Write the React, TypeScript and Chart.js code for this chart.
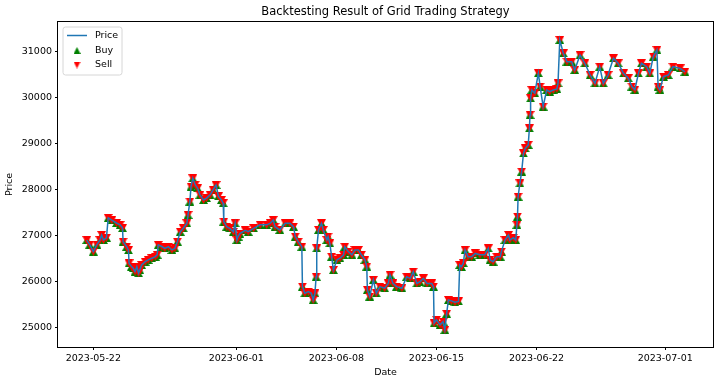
import React, { useEffect, useRef } from "react";
import { Chart, registerables } from "chart.js";

Chart.register(...registerables);

// ---- data ----
const timestamps = [
  "2023-05-21 13:00", "2023-05-21 18:00", "2023-05-22 00:00", "2023-05-22 06:00", "2023-05-22 11:00",
  "2023-05-22 14:00", "2023-05-22 17:00", "2023-05-22 22:00", "2023-05-23 01:00", "2023-05-23 07:00",
  "2023-05-23 15:00", "2023-05-23 21:00", "2023-05-24 01:00", "2023-05-24 02:00", "2023-05-24 08:00",
  "2023-05-24 11:00", "2023-05-24 12:00", "2023-05-24 16:00", "2023-05-24 19:00", "2023-05-24 22:00",
  "2023-05-25 01:00", "2023-05-25 04:00", "2023-05-25 06:00", "2023-05-25 09:00", "2023-05-25 15:00",
  "2023-05-25 20:00", "2023-05-26 02:00", "2023-05-26 08:00", "2023-05-26 11:00", "2023-05-26 13:00",
  "2023-05-26 19:00", "2023-05-27 00:00", "2023-05-27 06:00", "2023-05-27 12:00", "2023-05-27 17:00",
  "2023-05-27 21:00", "2023-05-28 02:00", "2023-05-28 07:00", "2023-05-28 13:00", "2023-05-28 15:00",
  "2023-05-28 18:00", "2023-05-28 20:00", "2023-05-28 23:00", "2023-05-29 03:00", "2023-05-29 07:00",
  "2023-05-29 11:00", "2023-05-29 17:00", "2023-05-29 22:00", "2023-05-30 04:00", "2023-05-30 09:00",
  "2023-05-30 14:00", "2023-05-30 18:00", "2023-05-30 23:00", "2023-05-31 02:00", "2023-05-31 03:00",
  "2023-05-31 08:00", "2023-05-31 13:00", "2023-05-31 19:00", "2023-05-31 22:00", "2023-06-01 01:00",
  "2023-06-01 03:00", "2023-06-01 06:00", "2023-06-01 15:00", "2023-06-01 20:00", "2023-06-02 05:00",
  "2023-06-02 16:00", "2023-06-03 03:00", "2023-06-03 09:00", "2023-06-03 14:00", "2023-06-03 17:00",
  "2023-06-04 01:00", "2023-06-04 10:00", "2023-06-04 18:00", "2023-06-05 00:00", "2023-06-05 03:00",
  "2023-06-05 08:00", "2023-06-05 14:00", "2023-06-05 15:00", "2023-06-05 19:00", "2023-06-06 01:00",
  "2023-06-06 06:00", "2023-06-06 09:00", "2023-06-06 12:00", "2023-06-06 14:00", "2023-06-06 15:00",
  "2023-06-06 18:00", "2023-06-06 23:00", "2023-06-07 02:00", "2023-06-07 08:00", "2023-06-07 10:00",
  "2023-06-07 13:00", "2023-06-07 16:00", "2023-06-07 19:00", "2023-06-08 01:00", "2023-06-08 06:00",
  "2023-06-08 12:00", "2023-06-08 14:00", "2023-06-08 20:00", "2023-06-09 02:00", "2023-06-09 07:00",
  "2023-06-09 13:00", "2023-06-09 18:00", "2023-06-10 00:00", "2023-06-10 03:00", "2023-06-10 04:00",
  "2023-06-10 08:00", "2023-06-10 14:00", "2023-06-10 19:00", "2023-06-11 01:00", "2023-06-11 09:00",
  "2023-06-11 15:00", "2023-06-11 18:00", "2023-06-11 23:00", "2023-06-12 05:00", "2023-06-12 14:00",
  "2023-06-12 22:00", "2023-06-13 04:00", "2023-06-13 09:00", "2023-06-13 15:00", "2023-06-13 20:00",
  "2023-06-14 02:00", "2023-06-14 08:00", "2023-06-14 16:00", "2023-06-14 19:00", "2023-06-14 20:00",
  "2023-06-15 00:00", "2023-06-15 06:00", "2023-06-15 11:00", "2023-06-15 14:00", "2023-06-15 17:00",
  "2023-06-15 20:00", "2023-06-16 01:00", "2023-06-16 07:00", "2023-06-16 13:00", "2023-06-16 15:00",
  "2023-06-16 18:00", "2023-06-16 21:00", "2023-06-17 00:00", "2023-06-17 05:00", "2023-06-17 11:00",
  "2023-06-17 17:00", "2023-06-18 01:00", "2023-06-18 09:00", "2023-06-18 15:00", "2023-06-18 18:00",
  "2023-06-18 23:00", "2023-06-19 05:00", "2023-06-19 11:00", "2023-06-19 13:00", "2023-06-19 19:00",
  "2023-06-20 01:00", "2023-06-20 03:00", "2023-06-20 09:00", "2023-06-20 13:00", "2023-06-20 15:00",
  "2023-06-20 16:00", "2023-06-20 17:00", "2023-06-20 20:00", "2023-06-20 23:00", "2023-06-21 02:00",
  "2023-06-21 05:00", "2023-06-21 10:00", "2023-06-21 12:00", "2023-06-21 13:00", "2023-06-21 14:00",
  "2023-06-21 16:00", "2023-06-21 21:00", "2023-06-22 03:00", "2023-06-22 06:00", "2023-06-22 11:00",
  "2023-06-22 17:00", "2023-06-22 22:00", "2023-06-23 04:00", "2023-06-23 10:00", "2023-06-23 12:00",
  "2023-06-23 15:00", "2023-06-23 21:00", "2023-06-24 03:00", "2023-06-24 11:00", "2023-06-24 16:00",
  "2023-06-25 01:00", "2023-06-25 09:00", "2023-06-25 18:00", "2023-06-26 02:00", "2023-06-26 10:00",
  "2023-06-26 16:00", "2023-06-27 00:00", "2023-06-27 09:00", "2023-06-27 17:00", "2023-06-28 02:00",
  "2023-06-28 10:00", "2023-06-28 16:00", "2023-06-28 21:00", "2023-06-29 03:00", "2023-06-29 08:00",
  "2023-06-29 17:00", "2023-06-29 22:00", "2023-06-30 04:00", "2023-06-30 10:00", "2023-06-30 12:00",
  "2023-06-30 15:00", "2023-06-30 21:00", "2023-07-01 05:00", "2023-07-01 13:00", "2023-07-02 01:00",
  "2023-07-02 09:00",
];

const prices = [
  26900, 26800, 26650, 26800, 26900,
  27010, 26900, 26950, 27380, 27330,
  27270, 27230, 27160, 26865, 26755,
  26680, 26395, 26325, 26290, 26215,
  26325, 26180, 26250, 26360, 26430,
  26470, 26505, 26540, 26580, 26795,
  26760, 26720, 26755, 26685, 26720,
  26865, 27080, 27155, 27265, 27445,
  27735, 28060, 28240, 28100, 28025,
  27880, 27770, 27810, 27880, 27990,
  28095, 27850, 27770, 27700, 27300,
  27190, 27155, 27080, 27265, 26900,
  26975, 27040, 27110, 27080, 27155,
  27230, 27230, 27265, 27335, 27190,
  27120, 27265, 27265, 27190, 26975,
  26865, 26755, 25890, 25745, 25780,
  25745, 25600, 25745, 26105, 26720,
  27120, 27265, 27120, 26900, 26975,
  26830, 26540, 26250, 26470, 26505,
  26580, 26755, 26650, 26580, 26685,
  26685, 26580, 26470, 26325, 25820,
  25675, 26035, 25745, 25890, 25855,
  25960, 26145, 25960, 25890, 25855,
  26105, 26070, 26215, 25960, 25995,
  26070, 25960, 25960, 25890, 25095,
  25170, 25060, 25130, 24950, 25300,
  25600, 25580, 25550, 25570, 26360,
  26320, 26400, 26685, 26540, 26540,
  26610, 26580, 26580, 26720, 26470,
  26430, 26540, 26540, 26650, 26900,
  27010, 26900, 26950, 26900, 27230,
  27410, 27840, 28130, 28385, 28780,
  28890, 28965, 29325, 29615, 29975,
  30155, 30085, 30520, 30230, 29795,
  30155, 30120, 30155, 30180, 30300,
  31240, 30950, 30770, 30770, 30590,
  30915, 30735, 30480, 30300, 30660,
  30300, 30480, 30845, 30735, 30515,
  30410, 30230, 30160, 30515, 30735,
  30660, 30515, 30880, 31025, 30230,
  30160, 30445, 30480, 30660, 30625,
  30550,
];

// the grid strategy marks a buy and a sell at every step
const buyPrices = prices.slice();
const sellPrices = prices.slice();

const xTickDates = ["2023-05-22", "2023-06-01", "2023-06-08", "2023-06-15", "2023-06-22", "2023-07-01"];
const yTickValues = [25000, 26000, 27000, 28000, 29000, 30000, 31000];

// ---- helpers ----
const DAY = 86400000;
const BASE = Date.UTC(2023, 4, 22);
function toDays(s: string): number {
  const [d, t] = s.split(" ");
  const [Y, M, D] = d.split("-").map(Number);
  const h = t ? Number(t.split(":")[0]) : 0;
  return (Date.UTC(Y, M - 1, D, h) - BASE) / DAY;
}
function fmtDay(v: number): string {
  return new Date(BASE + Math.round(v) * DAY).toISOString().slice(0, 10);
}

function makeTriangle(color: string, up: boolean, w: number, h: number) {
  const c = document.createElement("canvas");
  c.width = w;
  c.height = h;
  const g = c.getContext("2d")!;
  g.fillStyle = color;
  g.beginPath();
  if (up) {
    g.moveTo(w / 2, 0);
    g.lineTo(w, h);
    g.lineTo(0, h);
  } else {
    g.moveTo(0, 0);
    g.lineTo(w, 0);
    g.lineTo(w / 2, h);
  }
  g.closePath();
  g.fill();
  return c;
}

const FONT = "'DejaVu Sans', sans-serif";
const BLUE = "#1f77b4";
const GREEN = "#008000";
const RED = "#ff0000";

export default function App() {
  const ref = useRef<HTMLCanvasElement>(null);

  useEffect(() => {
    document.body.style.margin = "0";
    const canvas = ref.current!;
    Chart.defaults.font.family = FONT;
    Chart.defaults.color = "#000";

    const triUp = makeTriangle(GREEN, true, 9, 8);
    const triDown = makeTriangle(RED, false, 9, 8);
    const legUp = makeTriangle(GREEN, true, 7, 7);
    const legDown = makeTriangle(RED, false, 7, 7);

    const pricePts = timestamps.map((t, i) => ({ x: toDays(t), y: prices[i] }));
    const buyPts = timestamps.map((t, i) => ({ x: toDays(t), y: buyPrices[i] }));
    const sellPts = timestamps.map((t, i) => ({ x: toDays(t), y: sellPrices[i] }));

    const framePlugin = {
      id: "frame",
      afterDatasetsDraw(chart: any) {
        const { ctx, chartArea: a } = chart;
        ctx.save();
        ctx.strokeStyle = "#000";
        ctx.lineWidth = 1;
        ctx.strokeRect(Math.round(a.left) - 0.5, Math.round(a.top) - 0.5, Math.round(a.right - a.left) + 1, Math.round(a.bottom - a.top) + 1);
        ctx.restore();
      },
    };

    const overlayPlugin = {
      id: "overlay",
      afterDraw(chart: any) {
        const { ctx, chartArea: a } = chart;
        ctx.save();
        // title
        ctx.fillStyle = "#000";
        ctx.font = `11.5px ${FONT}`;
        ctx.textAlign = "center";
        ctx.textBaseline = "middle";
        ctx.fillText("Backtesting Result of Grid Trading Strategy", (a.left + a.right) / 2, 12);

        // legend
        const lx = a.left + 5, ly = a.top + 5, lw = 59, lh = 48, r = 2.5;
        ctx.beginPath();
        ctx.moveTo(lx + r, ly);
        ctx.lineTo(lx + lw - r, ly);
        ctx.quadraticCurveTo(lx + lw, ly, lx + lw, ly + r);
        ctx.lineTo(lx + lw, ly + lh - r);
        ctx.quadraticCurveTo(lx + lw, ly + lh, lx + lw - r, ly + lh);
        ctx.lineTo(lx + r, ly + lh);
        ctx.quadraticCurveTo(lx, ly + lh, lx, ly + lh - r);
        ctx.lineTo(lx, ly + r);
        ctx.quadraticCurveTo(lx, ly, lx + r, ly);
        ctx.closePath();
        ctx.fillStyle = "rgba(255,255,255,0.8)";
        ctx.fill();
        ctx.strokeStyle = "#d6d6d6";
        ctx.lineWidth = 1;
        ctx.stroke();

        const rows = [ly + 8.5, ly + 23.5, ly + 38];
        ctx.strokeStyle = BLUE;
        ctx.lineWidth = 1.5;
        ctx.beginPath();
        ctx.moveTo(lx + 4, rows[0]);
        ctx.lineTo(lx + 24, rows[0]);
        ctx.stroke();
        ctx.drawImage(legUp, lx + 14 - 3.5, rows[1] - 3.5);
        ctx.drawImage(legDown, lx + 14 - 3.5, rows[2] - 3.5);

        ctx.fillStyle = "#000";
        ctx.font = `9.5px ${FONT}`;
        ctx.textAlign = "left";
        ctx.textBaseline = "middle";
        ctx.fillText("Price", lx + 32, rows[0]);
        ctx.fillText("Buy", lx + 32, rows[1]);
        ctx.fillText("Sell", lx + 32, rows[2]);
        ctx.restore();
      },
    };

    const chart = new Chart(canvas, {
      type: "line",
      data: {
        datasets: [
          {
            label: "Price",
            data: pricePts,
            borderColor: BLUE,
            backgroundColor: BLUE,
            borderWidth: 1.5,
            pointRadius: 0,
            tension: 0,
            order: 0,
          },
          {
            label: "Buy",
            data: buyPts,
            showLine: false,
            pointStyle: triUp as any,
            pointRadius: 4,
            order: 2,
          },
          {
            label: "Sell",
            data: sellPts,
            showLine: false,
            pointStyle: triDown as any,
            pointRadius: 4,
            order: 1,
          },
        ],
      },
      options: {
        animation: false,
        responsive: false,
        events: [],
        layout: { padding: { top: 22, right: 7, left: 0, bottom: 0 } },
        plugins: {
          legend: { display: false },
          title: { display: false },
          tooltip: { enabled: false },
        },
        scales: {
          x: {
            type: "linear",
            min: -2.47,
            max: 43.34,
            afterFit: (s: any) => {
              s.height = 38;
            },
            afterBuildTicks: (s: any) => {
              s.ticks = xTickDates.map((d) => ({ value: toDays(d) }));
            },
            ticks: {
              callback: (v: any) => fmtDay(Number(v)),
              autoSkip: false,
              maxRotation: 0,
              minRotation: 0,
              padding: 3,
              color: "#000",
              font: { size: 9.5, family: FONT },
            },
            grid: { display: true, drawOnChartArea: false, drawTicks: true, tickLength: 3, color: "#000", lineWidth: 1 },
            border: { display: false },
            title: { display: true, text: "Date", color: "#000", font: { size: 9.5, family: FONT }, padding: { top: 0, bottom: 7 } },
          },
          y: {
            type: "linear",
            min: 24580,
            max: 31630,
            afterFit: (s: any) => {
              s.width = 58;
            },
            afterBuildTicks: (s: any) => {
              s.ticks = yTickValues.map((v) => ({ value: v }));
            },
            ticks: {
              callback: (v: any) => String(v),
              padding: 3,
              color: "#000",
              font: { size: 9.5, family: FONT },
            },
            grid: { display: true, drawOnChartArea: false, drawTicks: true, tickLength: 3, color: "#000", lineWidth: 1 },
            border: { display: false },
            title: { display: true, text: "Price", color: "#000", font: { size: 9.5, family: FONT }, padding: { top: 4, bottom: 0 } },
          },
        },
      },
      plugins: [framePlugin, overlayPlugin],
    });

    return () => chart.destroy();
  }, []);

  return (
    <div style={{ width: 720, height: 385 }}>
      <canvas ref={ref} width={720} height={385} style={{ display: "block", width: 720, height: 385 }} />
    </div>
  );
}
